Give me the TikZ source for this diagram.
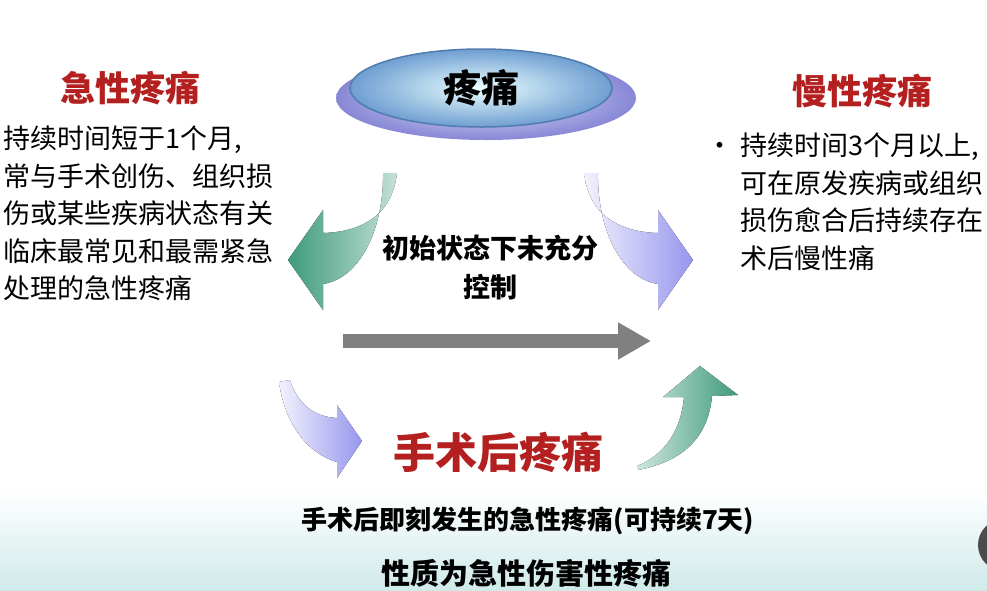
\documentclass[tikz,border=0pt]{standalone}
\usepackage{fontspec}
\newfontfamily\cjk{Noto Sans CJK SC}
\usetikzlibrary{arrows.meta,shapes.geometric}

\definecolor{titlered}{HTML}{B3201F}
\definecolor{arrowgreen}{HTML}{3E9A7C}
\definecolor{lavender}{HTML}{9696EE}
\definecolor{capblue}{HTML}{5E93CC}
\definecolor{bandteal}{HTML}{D0EAEA}

\begin{document}
\begin{tikzpicture}[
  x=1pt, y=-1pt,
  font=\cjk,
  title/.style={font=\cjk\bfseries\fontsize{35}{40}\selectfont, text=titlered, inner sep=0pt},
  body/.style={font=\cjk\fontsize{27}{37.5}\selectfont, align=left, inner sep=0pt},
  mid/.style={font=\cjk\bfseries\fontsize{27}{39}\selectfont, align=center, inner sep=0pt},
  dishrim/.style={ellipse, minimum width=300pt, minimum height=84pt, inner color=lavender!25!white, outer color=lavender!90!black},
  dishcap/.style={ellipse, minimum width=262pt, minimum height=78pt, inner color=cyan!8!white, outer color=capblue!90!white, draw=capblue!85!black, line width=1.5pt, font=\cjk\bfseries\fontsize{38}{40}\selectfont},
  grayarrow/.style={-{Triangle[length=33pt,width=35pt]}, line width=14pt, draw=black!50}
]
\useasboundingbox (0,0) rectangle (987,590);

% bottom band
\fill[top color=white, bottom color=bandteal] (0,490) rectangle (987,590);
\fill[black!70] (1004,545) circle (26);

% centre dish
\node[dishrim] (painrim) at (486,98) {};
\node[dishcap] (pain) at (481,88) {疼痛};

% curved arrows
\fill[left color=arrowgreen, right color=arrowgreen!30!white]
  (397,173) .. controls (392,215) and (362,232) .. (323,233) -- (323,210) -- (288,260)
  -- (323,310) -- (323,284) .. controls (362,278) and (384,225) .. (383,173) -- cycle;
\fill[left color=lavender!12!white, right color=lavender]
  (584,173) .. controls (589,215) and (619,232) .. (658,233) -- (658,210) -- (693,260)
  -- (658,310) -- (658,284) .. controls (619,278) and (597,225) .. (598,173) -- cycle;
\fill[left color=lavender!12!white, right color=lavender]
  (290,380) .. controls (298,405) and (315,417) .. (337,418) -- (337,405) -- (362,441)
  -- (337,478) -- (337,462) .. controls (303,452) and (284,418) .. (279,382) -- cycle;
\fill[left color=arrowgreen!25!white, right color=arrowgreen]
  (637,466) .. controls (665,455) and (681,430) .. (684,397) -- (663,397) -- (700,366)
  -- (738,395) -- (712,396) .. controls (708,440) and (680,462) .. (638,470) -- cycle;

\coordinate (ctrlstart) at (343,341);
\coordinate (ctrlend) at (651,341);
\draw[grayarrow] (ctrlstart) -- (ctrlend);

% texts
\node[title] (acute) at (130,88) {急性疼痛};
\node[body, anchor=north west] (acutetxt) at (3,126)
  {持续时间短于1个月,\\常与手术创伤、组织损\\伤或某些疾病状态有关\\临床最常见和最需紧急\\处理的急性疼痛};

\node[title] (chronic) at (862,91) {慢性疼痛};
\node[body, anchor=north west] (chronictxt) at (740,133)
  {\llap{\textbullet\hspace{7pt}}持续时间3个月以上,\\可在原发疾病或组织\\损伤愈合后持续存在\\术后慢性痛};

\node[mid] (ctrl) at (490,268) {初始状态下未充分\\控制};

\node[title, font=\cjk\bfseries\fontsize{42}{46}\selectfont] (postop) at (498,452) {手术后疼痛};
\node[mid, font=\cjk\bfseries\fontsize{26}{30}\selectfont] (postdesc) at (528,521)
  {手术后即刻发生的急性疼痛(可持续7天)};
\node[mid, font=\cjk\bfseries\fontsize{29}{32}\selectfont] (postkind) at (526,573)
  {性质为急性伤害性疼痛};

\end{tikzpicture}
\end{document}
